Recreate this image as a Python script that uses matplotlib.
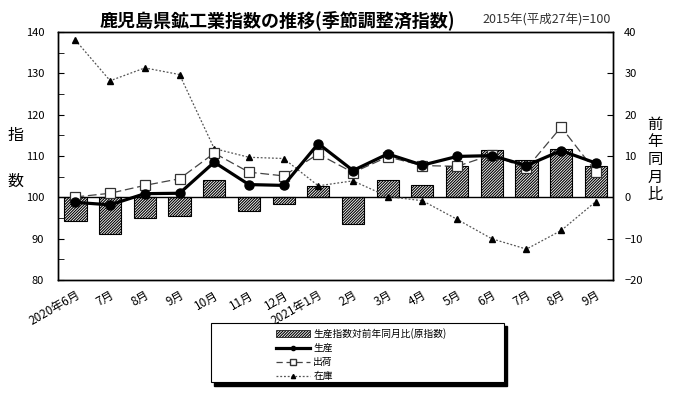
import matplotlib
matplotlib.use("Agg")
import matplotlib.pyplot as plt
from matplotlib.patches import Rectangle
from matplotlib.lines import Line2D
from matplotlib.patches import Patch

plt.rcParams["font.family"] = ["Noto Sans CJK JP", "DejaVu Sans"]
plt.rcParams["hatch.linewidth"] = 0.8

# ── data ───────────────────────────────────────────────────────────
months = ["2020年6月", "7月", "8月", "9月", "10月", "11月", "12月", "2021年1月",
          "2月", "3月", "4月", "5月", "6月", "7月", "8月", "9月"]
production = [98.8, 98.2, 100.9, 101.0, 108.5, 103.1, 102.9, 113.0,
              106.5, 110.5, 107.8, 109.9, 110.1, 107.7, 111.3, 108.3]
shipment = [100.1, 101.0, 102.9, 104.5, 110.7, 106.1, 105.2, 110.5,
            106.0, 109.8, 107.7, 107.5, 110.3, 107.0, 117.0, 106.2]
inventory = [138.0, 128.2, 131.3, 129.7, 111.8, 109.7, 109.4, 102.8,
             104.0, 100.2, 99.2, 94.7, 90.0, 87.5, 92.0, 99.0]
yoy = [-5.6, -8.9, -5.1, -4.6, 4.1, -3.2, -1.6, 2.7,
       -6.4, 4.2, 3.0, 7.6, 11.4, 9.0, 11.7, 7.6]

x = list(range(len(months)))

fig = plt.figure(figsize=(7, 3.94), dpi=100)
ax = fig.add_axes([0.083, 0.289, 0.793, 0.630])
ax2 = ax.twinx()
ax.set_zorder(ax2.get_zorder() + 1)
ax.patch.set_visible(False)

# bars on right axis (YoY %)
ax2.bar(x, yoy, width=0.64, color="white", edgecolor="black",
        hatch="////////////", linewidth=0.8)
ax2.axhline(0, color="black", lw=1.0)
ax2.set_ylim(-20, 40)
ax2.set_yticks(range(-20, 41, 10))
ax2.tick_params(axis="y", direction="in", length=4, labelsize=8, pad=8)

# index lines on left axis
ax.plot(x, inventory, color="#555555", lw=0.9, ls=(0, (1.5, 1.5)),
        marker="^", ms=4.5, mfc="black", mec="black")
ax.plot(x, shipment, color="#444444", lw=0.9, ls=(0, (7, 3)),
        marker="s", ms=7, mfc="white", mec="#333333", mew=0.9)
ax.plot(x, production, color="black", lw=2.3, marker="o", ms=6.5)

ax.set_xlim(-0.5, len(months) - 0.5)
ax.set_ylim(80, 140)
ax.set_yticks(range(80, 141, 10))
ax.set_yticks(range(85, 140, 10), minor=True)
ax.tick_params(axis="y", which="both", direction="in", length=4, labelsize=8, pad=10)
ax.set_xticks(x)
ax.set_xticklabels(months, rotation=30, ha="right", rotation_mode="anchor", fontsize=8.5)
ax.tick_params(axis="x", length=0, pad=6)

for a in (ax, ax2):
    for s in a.spines.values():
        s.set_linewidth(1.0)

# axis labels (stacked vertical characters)
fig.text(0.022, 0.655, "指", fontsize=11.5, ha="center", va="center")
fig.text(0.022, 0.54, "数", fontsize=11.5, ha="center", va="center")
fig.text(0.936, 0.595, "前\n年\n同\n月\n比", fontsize=11, ha="center",
         va="center", linespacing=1.05)

# title
fig.text(0.396, 0.950, "鹿児島県鉱工業指数の推移(季節調整済指数)", fontsize=13,
         fontweight="bold", ha="center", va="center")
fig.text(0.781, 0.950, "2015年(平成27年)=100", fontsize=9, color="#333333",
         ha="center", va="center")

# legend box with shadow
fig.patches.append(Rectangle((0.306, 0.020), 0.418, 0.153, transform=fig.transFigure,
                             facecolor="black", edgecolor="black", zorder=1))
fig.patches.append(Rectangle((0.302, 0.030), 0.418, 0.150, transform=fig.transFigure,
                             facecolor="white", edgecolor="black", lw=0.8, zorder=2))
handles = [
    Patch(facecolor="white", edgecolor="black", hatch="////////////", lw=0.5),
    Line2D([], [], color="black", lw=2.3, marker="o", ms=3),
    Line2D([], [], color="#444444", lw=0.9, ls=(0, (5, 3)), marker="s", ms=4,
           mfc="white", mec="#333333"),
    Line2D([], [], color="#555555", lw=0.9, ls=(0, (1.5, 1.5)), marker="^", ms=3,
           mfc="black", mec="black"),
]
labels = ["生産指数対前年同月比(原指数)", "生産", "出荷", "在庫"]
leg = fig.legend(handles, labels, loc="upper left", bbox_to_anchor=(0.385, 0.185),
                 frameon=False, fontsize=7, handlelength=3.5, handleheight=0.7,
                 labelspacing=0.42, handletextpad=0.3, borderpad=0.2)
leg.set_zorder(3)

fig.savefig("out.png", dpi=100)
